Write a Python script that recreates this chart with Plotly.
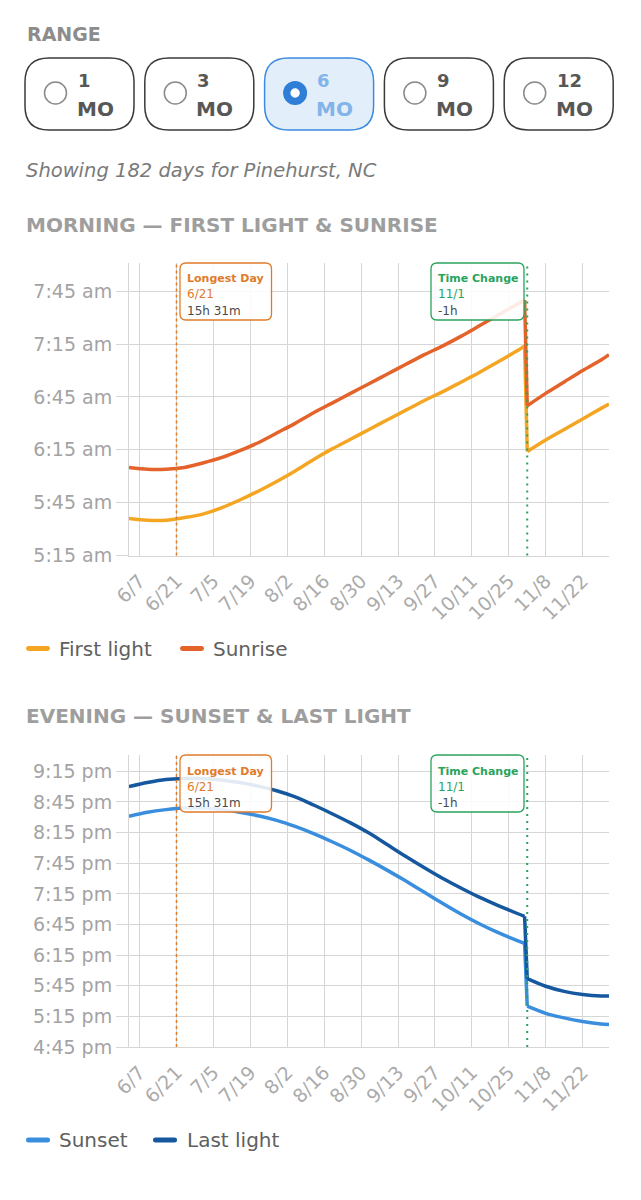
import plotly.graph_objects as go

# ---- data (Pinehurst, NC, 182 days) ----
dates = [
    "2026-06-03", "2026-06-10", "2026-06-17", "2026-06-24", "2026-07-01",
    "2026-07-08", "2026-07-15", "2026-07-22", "2026-07-29", "2026-08-05",
    "2026-08-12", "2026-08-19", "2026-08-26", "2026-09-02", "2026-09-09",
    "2026-09-16", "2026-09-23", "2026-09-30", "2026-10-07", "2026-10-14",
    "2026-10-21", "2026-10-28", "2026-10-31", "2026-11-01", "2026-11-08",
    "2026-11-15", "2026-11-22", "2026-11-29", "2026-12-02",
]
# clock times, minutes may carry a half
first_light = [
    "5:36", "5:35", "5:35", "5:36.5", "5:38.5", "5:42", "5:46.5", "5:51.5", "5:57", "6:03",
    "6:09.5", "6:15.5", "6:21", "6:26.5", "6:32", "6:37.5", "6:43", "6:48", "6:53.5", "6:59",
    "7:05", "7:11", "7:14", "6:14", "6:20.5", "6:26.5", "6:32.5", "6:38.5", "6:41",
]
sunrise = [
    "6:05", "6:04", "6:04", "6:05", "6:07.5", "6:10.5", "6:14.5", "6:19", "6:24.5", "6:30",
    "6:36", "6:41.5", "6:47", "6:52.5", "6:58", "7:03.5", "7:09", "7:14", "7:19.5", "7:25.5",
    "7:31.5", "7:37.5", "7:40", "6:40", "6:47", "6:53.5", "7:00", "7:06", "7:09",
]
sunset = [
    "8:31", "8:35", "8:37.5", "8:39", "8:39", "8:37.5", "8:35", "8:31.5", "8:27", "8:21",
    "8:14", "8:06", "7:57.5", "7:48", "7:38", "7:27.5", "7:16.5", "7:05.5", "6:55", "6:45.5",
    "6:37", "6:29.5", "6:26.5", "5:25", "5:18", "5:13.5", "5:10", "5:07.5", "5:07",
]
last_light = [
    "9:00", "9:04", "9:07", "9:08", "9:08", "9:06.5", "9:04", "9:00.5", "8:56", "8:50",
    "8:42", "8:33.5", "8:24.5", "8:14.5", "8:03", "7:51.5", "7:40.5", "7:30", "7:20.5", "7:11.5",
    "7:03.5", "6:56", "6:53", "5:52", "5:44.5", "5:39.5", "5:36.5", "5:35", "5:35",
]
change_index = 23  # first day after the clocks go back (11/1)

x_ticks = [
    "2026-06-07", "2026-06-21", "2026-07-05", "2026-07-19", "2026-08-02",
    "2026-08-16", "2026-08-30", "2026-09-13", "2026-09-27", "2026-10-11",
    "2026-10-25", "2026-11-08", "2026-11-22",
]
x_tick_text = ["6/7", "6/21", "7/5", "7/19", "8/2", "8/16", "8/30", "9/13",
               "9/27", "10/11", "10/25", "11/8", "11/22"]
am_ticks = ["5:15", "5:45", "6:15", "6:45", "7:15", "7:45"]
pm_ticks = ["4:45", "5:15", "5:45", "6:15", "6:45", "7:15", "7:45", "8:15", "8:45", "9:15"]
am_range = ["5:15", "8:01"]
pm_range = ["4:45", "9:31"]

range_options = ["1", "3", "6", "9", "12"]
selected_option = "6"

longest_day = "2026-06-21"
longest_label = ["Longest Day", "6/21", "15h 31m"]
time_change = "2026-11-01"
change_label = ["Time Change", "11/1", "-1h"]

date_range = ["2026-06-03", "2026-12-02"]

FONT = "DejaVu Sans"
C_FIRST = "#f4a623"
C_SUNRISE = "#e4632b"
C_SUNSET = "#3a8ede"
C_LAST = "#16589f"
C_ORANGE = "#e07b2a"
C_GREEN = "#2aa35c"
GRID = "#d6d6d6"


def minutes(t, pm=False):
    h, m = t.split(":")
    return (int(h) + (12 if pm else 0)) * 60 + float(m)


# the page body keeps its 8px margin, so the figure is 16px smaller than the window
W, H, OFF = 625, 1184, 8


def px(x):
    return (x - OFF) / W


def py(y):
    return 1 - (y - OFF) / H


def rounded_rect(x0, y0, x1, y1, r):
    pts = [
        ("M", x0 + r, y0), ("L", x1 - r, y0), ("Q", x1, y0, x1, y0 + r),
        ("L", x1, y1 - r), ("Q", x1, y1, x1 - r, y1), ("L", x0 + r, y1),
        ("Q", x0, y1, x0, y1 - r), ("L", x0, y0 + r), ("Q", x0, y0, x0 + r, y0),
    ]
    out = []
    for p in pts:
        cmd, vals = p[0], p[1:]
        coords = []
        for i in range(0, len(vals), 2):
            coords.append(f"{px(vals[i]):.5f},{py(vals[i + 1]):.5f}")
        out.append(cmd + " ".join(coords))
    return " ".join(out) + " Z"


def add_series(fig, values, pm, color, name, xa, ya):
    y = [minutes(t, pm) for t in values]
    c = change_index
    # smooth before and after the clock change, straight drop in between
    parts = [(dates[:c], y[:c], "spline"),
             (dates[c - 1:c + 1], y[c - 1:c + 1], "linear"),
             (dates[c:], y[c:], "spline")]
    for xs, ys, shape in parts:
        fig.add_trace(go.Scatter(x=xs, y=ys, mode="lines", name=name, xaxis=xa, yaxis=ya,
                                 line=dict(color=color, width=3.5, shape=shape, smoothing=0.8)))


fig = go.Figure()
add_series(fig, first_light, False, C_FIRST, "First light", "x", "y")
add_series(fig, sunrise, False, C_SUNRISE, "Sunrise", "x", "y")
add_series(fig, sunset, True, C_SUNSET, "Sunset", "x2", "y2")
add_series(fig, last_light, True, C_LAST, "Last light", "x2", "y2")

xaxis_common = dict(
    type="date", range=date_range, tickmode="array", tickvals=x_ticks,
    ticktext=x_tick_text, tickangle=-45, showgrid=True, gridcolor=GRID, gridwidth=1,
    showline=True, linecolor=GRID, ticks="outside", ticklen=6,
    tickcolor="rgba(0,0,0,0)", zeroline=False, automargin=False,
    tickfont=dict(family=FONT, size=19, color="#ababab"),
)
yaxis_common = dict(
    showgrid=True, gridcolor=GRID, gridwidth=1, showline=True, linecolor=GRID,
    ticks="outside", ticklen=12, tickcolor=GRID, zeroline=False, automargin=False,
    tickfont=dict(family=FONT, size=19, color="#a3a3a3"),
)

shapes = []
annotations = []

# ---- range selector ----
annotations.append(dict(text="<b>RANGE</b>", x=px(25), y=py(34), xref="paper", yref="paper",
                        xanchor="left", yanchor="middle", showarrow=False,
                        font=dict(family=FONT, size=19, color="#8c8c8c")))
for i, opt in enumerate(range_options):
    left = 25 + 119.8 * i
    sel = opt == selected_option
    shapes.append(dict(type="path", path=rounded_rect(left, 58, left + 109, 130, 24),
                       xref="paper", yref="paper",
                       line=dict(color="#3b8be0" if sel else "#3a3a3a", width=1.5),
                       fillcolor="#e3eefb" if sel else "white", layer="below"))
    cx, cy = left + 30.5, 93
    if sel:
        shapes.append(dict(type="circle", xref="paper", yref="paper",
                           x0=px(cx - 12), x1=px(cx + 12), y0=py(cy + 12), y1=py(cy - 12),
                           fillcolor="#2f7fd8", line=dict(width=0), layer="above"))
        shapes.append(dict(type="circle", xref="paper", yref="paper",
                           x0=px(cx - 4.7), x1=px(cx + 4.7), y0=py(cy + 4.7), y1=py(cy - 4.7),
                           fillcolor="white", line=dict(width=0), layer="above"))
    else:
        shapes.append(dict(type="circle", xref="paper", yref="paper",
                           x0=px(cx - 11), x1=px(cx + 11), y0=py(cy + 11), y1=py(cy - 11),
                           fillcolor="white", line=dict(color="#8a8a8a", width=1.5),
                           layer="above"))
    tc = "#82b4ea" if sel else "#575757"
    annotations.append(dict(text=f"<b>{opt}</b>", x=px(cx + 20), y=py(81), xref="paper",
                            yref="paper", xanchor="left", yanchor="middle", showarrow=False,
                            font=dict(family=FONT, size=18, color=tc)))
    annotations.append(dict(text="<b>MO</b>", x=px(cx + 19), y=py(108.5), xref="paper",
                            yref="paper", xanchor="left", yanchor="middle", showarrow=False,
                            font=dict(family=FONT, size=20, color=tc)))

annotations.append(dict(text="<i>Showing 182 days for Pinehurst, NC</i>", x=px(24), y=py(171),
                        xref="paper", yref="paper", xanchor="left", yanchor="middle",
                        showarrow=False, font=dict(family=FONT, size=19.5, color="#7a7a7a")))

# ---- chart headings ----
for text, y in [("MORNING — FIRST LIGHT &amp; SUNRISE", 225),
                ("EVENING — SUNSET &amp; LAST LIGHT", 716)]:
    annotations.append(dict(text=f"<b>{text}</b>", x=px(24), y=py(y), xref="paper",
                            yref="paper", xanchor="left", yanchor="middle", showarrow=False,
                            font=dict(family=FONT, size=20, color="#9e9e9e")))

# ---- event markers ----
for xa, ya, top in [("x", "y", 263), ("x2", "y2", 755)]:
    shapes.append(dict(type="line", xref=xa, yref=f"{ya} domain", x0=longest_day,
                       x1=longest_day, y0=0, y1=1, layer="above",
                       line=dict(color=C_ORANGE, width=1.5, dash="3px,3px")))
    shapes.append(dict(type="line", xref=xa, yref=f"{ya} domain", x0=time_change,
                       x1=time_change, y0=0, y1=1, layer="above",
                       line=dict(color=C_GREEN, width=2, dash="2px,5px")))
    for (bx0, bx1, color, lines) in [(180, 271.5, C_ORANGE, longest_label),
                                      (431, 524, C_GREEN, change_label)]:
        shapes.append(dict(type="path", path=rounded_rect(bx0, top, bx1, top + 57, 6),
                           xref="paper", yref="paper", line=dict(color=color, width=1.3),
                           fillcolor="rgba(255,255,255,0.88)", layer="above"))
        styles = [(f"<b>{lines[0]}</b>", color, 16, 11), (lines[1], color, 31.5, 12),
                  (lines[2], "#4a4a4a", 47.5, 12)]
        for txt, col, dy, size in styles:
            annotations.append(dict(text=txt, x=px(bx0 + 5), y=py(top + dy), xref="paper",
                                    yref="paper", xanchor="left", yanchor="middle",
                                    showarrow=False,
                                    font=dict(family=FONT, size=size, color=col)))

# ---- legends ----
for items, y in [([("First light", C_FIRST, 26, 57), ("Sunrise", C_SUNRISE, 180, 211)], 648.5),
                 ([("Sunset", C_SUNSET, 26, 57), ("Last light", C_LAST, 153, 185)], 1140)]:
    for name, color, lx, tx in items:
        shapes.append(dict(type="path", path=rounded_rect(lx, y - 2.5, lx + 24, y + 2.5, 2.5),
                           xref="paper", yref="paper", fillcolor=color,
                           line=dict(width=0)))
        annotations.append(dict(text=name, x=px(tx), y=py(y), xref="paper", yref="paper",
                                xanchor="left", yanchor="middle", showarrow=False,
                                font=dict(family=FONT, size=20, color="#606060")))

fig.update_layout(
    width=W, height=H, margin=dict(l=0, r=0, t=0, b=0),
    paper_bgcolor="white", plot_bgcolor="white", showlegend=False,
    font=dict(family=FONT),
    xaxis=dict(domain=[px(129), px(609)], anchor="y", **xaxis_common),
    yaxis=dict(domain=[py(555.5), py(263)], anchor="x",
               range=[minutes(am_range[0]), minutes(am_range[1])],
               tickmode="array", tickvals=[minutes(t) for t in am_ticks],
               ticktext=[f"{t} am" for t in am_ticks], **yaxis_common),
    xaxis2=dict(domain=[px(129), px(609)], anchor="y2", **xaxis_common),
    yaxis2=dict(domain=[py(1047), py(755)], anchor="x2",
                range=[minutes(pm_range[0], True), minutes(pm_range[1], True)],
                tickmode="array", tickvals=[minutes(t, True) for t in pm_ticks],
                ticktext=[f"{t} pm" for t in pm_ticks], **yaxis_common),
    shapes=shapes,
    annotations=annotations,
)

fig.write_html("out.html")
